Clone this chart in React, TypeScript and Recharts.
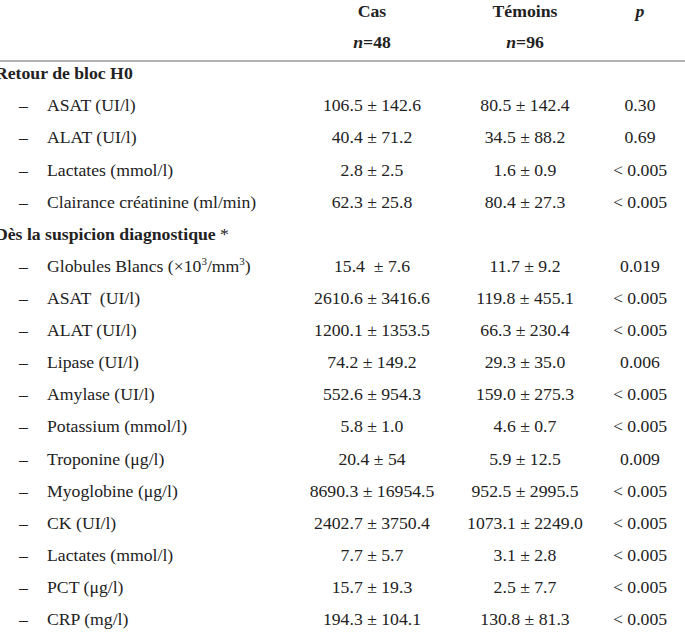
import React from "react";
import { ComposedChart, XAxis, YAxis } from "recharts";

// table rows, top to bottom
const rowLabels = [
  "Retour de bloc H0",
  "ASAT (UI/l)",
  "ALAT (UI/l)",
  "Lactates (mmol/l)",
  "Clairance créatinine (ml/min)",
  "Dès la suspicion diagnostique *",
  "Globules Blancs (×10^3/mm^3)",
  "ASAT  (UI/l)",
  "ALAT (UI/l)",
  "Lipase (UI/l)",
  "Amylase (UI/l)",
  "Potassium (mmol/l)",
  "Troponine (μg/l)",
  "Myoglobine (μg/l)",
  "CK (UI/l)",
  "Lactates (mmol/l)",
  "PCT (μg/l)",
  "CRP (mg/l)",
];
const sectionRows = [0, 5]; // bold group headings

const casValues = [
  "", "106.5 ± 142.6", "40.4 ± 71.2", "2.8 ± 2.5", "62.3 ± 25.8",
  "", "15.4  ± 7.6", "2610.6 ± 3416.6", "1200.1 ± 1353.5", "74.2 ± 149.2",
  "552.6 ± 954.3", "5.8 ± 1.0", "20.4 ± 54", "8690.3 ± 16954.5",
  "2402.7 ± 3750.4", "7.7 ± 5.7", "15.7 ± 19.3", "194.3 ± 104.1",
];
const temoinsValues = [
  "", "80.5 ± 142.4", "34.5 ± 88.2", "1.6 ± 0.9", "80.4 ± 27.3",
  "", "11.7 ± 9.2", "119.8 ± 455.1", "66.3 ± 230.4", "29.3 ± 35.0",
  "159.0 ± 275.3", "4.6 ± 0.7", "5.9 ± 12.5", "952.5 ± 2995.5",
  "1073.1 ± 2249.0", "3.1 ± 2.8", "2.5 ± 7.7", "130.8 ± 81.3",
];
const pValues = [
  "", "0.30", "0.69", "< 0.005", "< 0.005",
  "", "0.019", "< 0.005", "< 0.005", "0.006",
  "< 0.005", "< 0.005", "0.009", "< 0.005",
  "< 0.005", "< 0.005", "< 0.005", "< 0.005",
];

const columnTitles = ["Cas", "Témoins", "p"];
const columnCounts = ["48", "96", ""];

const data = rowLabels.map((label, i) => ({
  id: i,
  label,
  section: sectionRows.includes(i),
}));

const W = 685;
const H = 638;
const FONT = "'Liberation Serif', 'Times New Roman', serif";
const SIZE = 17.7;
const INK = "#222";

// "^3" -> superscript
function rich(text: string) {
  const parts = text.split(/(\^\d)/).filter((s) => s !== "");
  return parts.map((part, k) => {
    if (part.startsWith("^")) {
      return (
        <tspan key={k} fontSize={11} dy={-7}>
          {part.slice(1)}
        </tspan>
      );
    }
    const afterSup = k > 0 && parts[k - 1].startsWith("^");
    return (
      <tspan key={k} dy={afterSup ? 7 : undefined}>
        {part}
      </tspan>
    );
  });
}

function LabelTick(props: any) {
  const { y, payload } = props;
  const row = data[payload.value];
  if (!row) return null;
  if (row.section) {
    const star = row.label.endsWith("*");
    const main = star ? row.label.slice(0, -1) : row.label;
    return (
      <text x={-5} y={y} dy="0.35em" fontFamily={FONT} fontSize={SIZE} fill={INK} style={{ whiteSpace: "pre" }}>
        <tspan fontWeight="bold">{main}</tspan>
        {star && <tspan>*</tspan>}
      </text>
    );
  }
  return (
    <g>
      <text x={19} y={y} dy="0.35em" fontFamily={FONT} fontSize={SIZE} fill={INK}>
        –
      </text>
      <text x={47} y={y} dy="0.35em" fontFamily={FONT} fontSize={SIZE} fill={INK} style={{ whiteSpace: "pre" }}>
        {rich(row.label)}
      </text>
    </g>
  );
}

function ValueTick(props: any) {
  const { x, y, payload, values, colWidth } = props;
  const v = values[payload.value];
  if (!v) return null;
  return (
    <text
      x={x + colWidth / 2}
      y={y}
      dy="0.35em"
      textAnchor="middle"
      fontFamily={FONT}
      fontSize={SIZE}
      fill={INK}
      style={{ whiteSpace: "pre" }}
    >
      {v}
    </text>
  );
}

// first row sits at viewBox.y (point scale), headers above it
function ColumnHeader(props: any) {
  const { viewBox, title, count } = props;
  if (!viewBox) return null;
  const cx = viewBox.x + viewBox.width / 2;
  const italic = title === "p";
  return (
    <g fontFamily={FONT} fontSize={SIZE} fill={INK} fontWeight="bold">
      <text x={cx} y={viewBox.y - 62} dy="0.35em" textAnchor="middle" fontStyle={italic ? "italic" : "normal"}>
        {title}
      </text>
      {count && (
        <text x={cx} y={viewBox.y - 31} dy="0.35em" textAnchor="middle">
          <tspan fontStyle="italic">n</tspan>
          <tspan>={count}</tspan>
        </text>
      )}
    </g>
  );
}

function HeaderRule(props: any) {
  const { viewBox } = props;
  if (!viewBox) return null;
  return <line x1={0} x2={W} y1={viewBox.y - 12} y2={viewBox.y - 12} stroke="#9a9a9a" strokeWidth={1.6} />;
}

const columnValues = [casValues, temoinsValues, pValues];
const columnWidths = [152, 154, 76];

export default function App() {
  return (
    <div style={{ position: "absolute", left: 0, top: 0, width: W, height: H, background: "#fff" }}>
      <ComposedChart
        layout="vertical"
        width={W}
        height={H}
        data={data}
        margin={{ top: 73, right: 7, bottom: 19, left: 0 }}
      >
        <XAxis type="number" hide />
        <YAxis
          yAxisId={0}
          dataKey="id"
          type="category"
          orientation="left"
          width={290}
          interval={0}
          axisLine={false}
          tickLine={false}
          tickSize={0}
          tickMargin={0}
          tick={<LabelTick />}
          label={<HeaderRule />}
        />
        {columnTitles.map((title, c) => (
          <YAxis
            key={title}
            yAxisId={c + 1}
            dataKey="id"
            type="category"
            orientation="right"
            width={columnWidths[c]}
            interval={0}
            axisLine={false}
            tickLine={false}
            tickSize={0}
            tickMargin={0}
            tick={<ValueTick values={columnValues[c]} colWidth={columnWidths[c]} />}
            label={<ColumnHeader title={title} count={columnCounts[c]} />}
          />
        ))}
      </ComposedChart>
    </div>
  );
}
